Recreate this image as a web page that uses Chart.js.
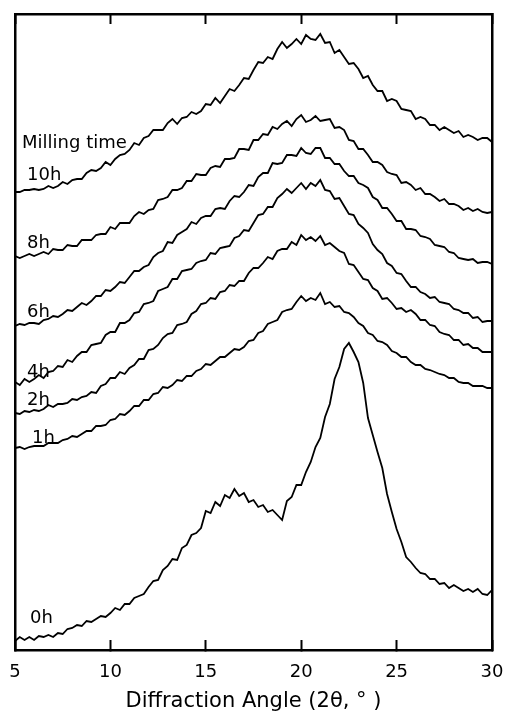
<!DOCTYPE html>
<html>
<head>
<meta charset="utf-8">
<script src="https://cdn.jsdelivr.net/npm/chart.js"></script>
<style>
  body { margin: 0; background: #fff; }
</style>
</head>
<body>
<canvas id="xrdChart" width="506" height="717"></canvas>
<script>
// 2-theta values (deg)
const angles = [5,5.25,5.5,5.75,6,6.25,6.5,6.75,7,7.25,7.5,7.75,8,8.25,8.5,8.75,9,9.25,9.5,9.75,
  10,10.25,10.5,10.75,11,11.25,11.5,11.75,12,12.25,12.5,12.75,13,13.25,13.5,13.75,14,14.25,14.5,14.75,
  15,15.25,15.5,15.75,16,16.25,16.5,16.75,17,17.25,17.5,17.75,18,18.25,18.5,18.75,19,19.25,19.5,19.75,
  20,20.25,20.5,20.75,21,21.25,21.5,21.75,22,22.25,22.5,22.75,23,23.25,23.5,23.75,24,24.25,24.5,24.75,
  25,25.25,25.5,25.75,26,26.25,26.5,26.75,27,27.25,27.5,27.75,28,28.25,28.5,28.75,29,29.25,29.5,29.75,30];

// intensities, already offset (stacked) as in the figure
const h0 = [9,13,10,13, 10,14,13,15, 13,17,16,21, 22,25,24,29, 28,31,34,33, 37,42,40,46, 46,52,54,56,
  63,69,70,80, 84,91,90,102, 105,115,117,122, 139,137,148,144, 155,152,161,154, 157,148,150,143,
  145,138,140,135, 130,149,153,165, 165,178,188,203, 212,233,246,271, 283,301,307,298, 288,267,232,215,
  198,182,156,138, 121,108,93,88, 82,77,76,71, 71,66,67,62, 65,62,59,61, 58,61,56,55, 60];
const h1 = [202,203,201,203, 204,204,204,207, 207,207,210,211, 214,213,216,219, 219,224,224,225,
  230,231,236,235, 239,244,244,250, 250,256,257,263, 262,265,270,269, 274,274,279,281, 286,285,289,293,
  293,297,301,300, 303,309,310,317, 319,326,328,330, 338,340,341,348, 354,349,352,350, 357,346,348,343,
  344,338,337,333, 327,324,317,315, 309,308,305,299, 297,293,293,288, 285,285,281,280, 278,276,275,272,
  272,268,267,267, 264,264,264,262, 262];
const h2 = [237,236,239,238, 240,239,241,245, 243,246,246,247, 251,250,253,254, 258,257,264,266,
  272,272,278,276, 282,285,291,291, 300,301,305,312, 316,317,325,326, 328,336,339,346, 347,352,351,358,
  359,365,364,369, 369,377,382,382, 387,393,391,399, 401,401,408,405, 415,410,413,409, 414,405,407,403,
  399,397,386,385, 378,371,370,362, 359,351,352,347, 341,342,338,340, 336,330,330,325, 324,318,316,315,
  310,310,305,306, 302,302,298,298, 298];
const h4 = [268,265,271,268, 271,275,272,278, 279,284,283,290, 288,294,298,298, 305,306,307,315,
  318,318,327,327, 330,337,338,346, 347,349,359,361, 363,371,371,379, 380,381,387,389, 390,397,396,402,
  403,404,412,414, 420,419,427,435, 436,443,443,452, 456,461,457,462, 467,461,467,464, 470,460,459,451,
  452,444,436,435, 426,422,417,406, 400,396,387,384, 377,376,369,363, 363,358,356,352, 353,348,347,346,
  341,340,337,337, 332,333,328,329, 329];
const h6 = [324,326,325,327, 327,326,330,331, 334,333,336,340, 339,343,347,345, 349,354,354,360,
  359,363,368,367, 373,379,379,383, 385,393,397,399, 408,407,415,418, 421,428,426,432, 434,434,441,442,
  441,449,454,453, 458,465,464,473, 477,477,487,486, 487,495,495,494, 502,497,496,502, 502,492,492,486,
  486,479,474,474, 467,465,462,453, 450,442,442,436, 429,429,421,421, 420,414,413,411, 405,404,403,398,
  397,392,391,390, 391,387,388,388, 386];
const h8 = [394,392,394,396, 394,396,398,396, 401,400,400,405, 404,404,410,410, 410,415,416,416,
  423,421,427,427, 427,434,438,436, 440,441,450,451, 453,460,460,462, 469,469,476,475, 475,482,484,483,
  491,491,492,501, 501,500,510,510, 516,515,523,521, 526,529,524,531, 535,528,530,534, 529,530,531,522,
  523,520,510,509, 501,501,495,488, 488,485,478,476, 475,467,468,465, 460,462,456,456, 453,449,451,446,
  446,444,440,442, 439,441,438,437, 438];
const h10 = [458,458,460,460, 461,460,461,464, 462,464,468,466, 470,471,471,477, 480,479,482,488,
  485,491,495,496, 500,507,505,512, 514,520,520,520, 527,531,526,532, 533,538,536,539, 546,545,552,547,
  554,561,559,565, 572,571,580,588, 587,593,591,601, 608,602,606,611, 606,615,611,610, 616,607,608,597,
  600,593,586,587, 581,572,574,565, 559,559,549,551, 549,541,540,539, 531,533,531,525, 525,520,523,520,
  517,519,513,515, 513,510,512,512, 508];

const seriesNames = ["0h", "1h", "2h", "4h", "6h", "8h", "10h"];
const seriesValues = [h0, h1, h2, h4, h6, h8, h10];
const xTicks = [5, 10, 15, 20, 25, 30];
const xTitle = "Diffraction Angle (2\u03b8, \u00b0 )";
const groupTitle = "Milling time";

// where the curve names sit (data units: angle, intensity)
const labelSpots = [[5.79, 27], [5.89, 207], [5.63, 245], [5.63, 273], [5.63, 333], [5.63, 402], [5.63, 470]];
const groupTitleSpot = [5.37, 502];

Chart.defaults.font.family = '"DejaVu Sans", sans-serif';
Chart.defaults.color = "#000";

const curveLabels = {
    id: "curveLabels",
    afterDatasetsDraw(chart) {
        const ctx = chart.ctx;
        const xs = chart.scales.x;
        const ys = chart.scales.y;
        ctx.save();
        ctx.font = '18px "DejaVu Sans", sans-serif';
        ctx.fillStyle = "#000";
        ctx.textAlign = "left";
        ctx.textBaseline = "alphabetic";
        seriesNames.forEach((name, i) => {
            ctx.fillText(name, xs.getPixelForValue(labelSpots[i][0]), ys.getPixelForValue(labelSpots[i][1]));
        });
        ctx.fillText(groupTitle, xs.getPixelForValue(groupTitleSpot[0]), ys.getPixelForValue(groupTitleSpot[1]));
        ctx.restore();
    }
};

const setTicks = scale => { scale.ticks = xTicks.map(v => ({ value: v })); };
// keep the plot box where the figure has it, labels may hang over the edge
const fitX = h => s => { s.height = h; s.paddingLeft = 0; s.paddingRight = 0; };
const tickGrid = { drawOnChartArea: false, tickLength: -10, tickWidth: 2, tickColor: "#000" };
const frame = { display: true, color: "#000", width: 2.5 };

let xrdChart = new Chart(document.getElementById("xrdChart"), {
    type: "line",
    data: {
        datasets: seriesValues.map((vals, i) => ({
            label: seriesNames[i],
            data: vals.map((v, j) => ({ x: angles[j], y: v })),
            borderColor: "#000",
            borderWidth: 1.8,
            pointRadius: 0,
            fill: false,
            tension: 0,
            xAxisID: "x",
            yAxisID: "y"
        }))
    },
    options: {
        responsive: false,
        animation: false,
        layout: { padding: { left: 15, right: 14, top: 14, bottom: 0 } },
        plugins: {
            legend: { display: false },
            tooltip: { enabled: false }
        },
        scales: {
            x: {
                type: "linear",
                position: "bottom",
                min: 5,
                max: 30,
                afterBuildTicks: setTicks,
                afterFit: fitX(67),
                grid: tickGrid,
                border: frame,
                ticks: { padding: 22, font: { size: 18 }, color: "#000" },
                title: { display: true, text: xTitle, font: { size: 21 }, color: "#000", padding: { top: 0, bottom: 3 } }
            },
            xTop: {
                type: "linear",
                position: "top",
                min: 5,
                max: 30,
                afterBuildTicks: setTicks,
                afterFit: fitX(0),
                grid: tickGrid,
                border: frame,
                ticks: { display: false }
            },
            y: {
                position: "left",
                min: 0,
                max: 636,
                afterFit: s => { s.width = 0; },
                grid: { display: false },
                border: frame,
                ticks: { display: false }
            },
            yRight: {
                position: "right",
                min: 0,
                max: 636,
                afterFit: s => { s.width = 0; },
                grid: { display: false },
                border: frame,
                ticks: { display: false }
            }
        }
    },
    plugins: [curveLabels]
});
</script>
</body>
</html>
